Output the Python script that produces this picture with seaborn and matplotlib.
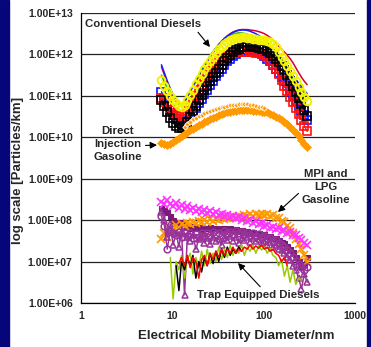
import numpy as np
import pandas as pd
import matplotlib
matplotlib.use("Agg")
import matplotlib.pyplot as plt
import seaborn as sns

# SMPS size channels (nm)
diam = [7.6, 8.2, 8.8, 9.5, 10.2, 11.0, 11.8, 12.6, 13.6, 14.6, 15.7, 16.8, 18.1,
        19.5, 20.9, 22.5, 24.1, 25.9, 27.9, 30.0, 32.2, 34.6, 37.2, 40.0, 43.0,
        46.1, 49.6, 53.3, 57.3, 61.5, 66.1, 71.0, 76.4, 82.0, 88.2, 94.7, 101.8,
        109.4, 117.6, 126.3, 135.7, 145.9, 156.8, 168.5, 181.1, 194.6, 209.1,
        224.7, 241.4, 259.5, 278.8, 299.6]

NA = None

# log10 particle number emissions per km, one list per vehicle/test
diesel_line_red = [11.7, 11.5, 11.32, 11.15, 11.0, 10.88, 10.8, 10.78, 10.84, 10.95, 11.08, 11.21,
                   11.34, 11.47, 11.6, 11.72, 11.84, 11.95, 12.05, 12.15, 12.24, 12.32, 12.39,
                   12.45, 12.5, 12.54, 12.57, 12.59, 12.6, 12.6, 12.6, 12.59, 12.58, 12.57, 12.55,
                   12.53, 12.5, 12.46, 12.41, 12.35, 12.28, 12.2, 12.13, 12.06, 11.98, 11.9, 11.8,
                   11.68, 11.56, 11.45, 11.35, 11.27]
diesel_line_blue = [11.75, 11.55, 11.36, 11.18, 11.02, 10.9, 10.82, 10.8, 10.85, 10.95, 11.07, 11.2,
                    11.33, 11.46, 11.59, 11.71, 11.83, 11.94, 12.04, 12.14, 12.23, 12.31, 12.38,
                    12.44, 12.49, 12.53, 12.56, 12.58, 12.59, 12.59, 12.58, 12.56, 12.53, 12.5,
                    12.46, 12.41, 12.35, 12.28, 12.2, 12.12, 12.03, 11.94, 11.85, 11.76, 11.67,
                    11.58, 11.49, 11.4, 11.31, 11.22, 11.13, 11.05]
diesel_line_green = [11.5, 11.33, 11.17, 11.03, 10.92, 10.84, 10.8, 10.8, 10.86, 10.97, 11.1, 11.23,
                     11.36, 11.49, 11.62, 11.74, 11.86, 11.97, 12.07, 12.16, 12.24, 12.31, 12.37,
                     12.42, 12.46, 12.49, 12.51, 12.52, 12.52, 12.51, 12.49, 12.46, 12.43, 12.39,
                     12.34, 12.29, 12.23, 12.16, 12.09, 12.01, 11.93, 11.84, 11.75, 11.66, 11.57,
                     11.48, 11.39, 11.3, 11.22, 11.14, 11.07, 11.01]
diesel_blue_sq = [11.1, 10.95, 10.8, 10.66, 10.53, 10.43, 10.36, 10.33, 10.34, 10.4, 10.5, 10.6,
                  10.71, 10.82, 10.93, 11.04, 11.15, 11.26, 11.37, 11.47, 11.57, 11.66, 11.75,
                  11.83, 11.9, 11.96, 12.01, 12.05, 12.08, 12.1, 12.11, 12.11, 12.1, 12.08, 12.05,
                  12.01, 11.96, 11.9, 11.83, 11.75, 11.66, 11.56, 11.46, 11.35, 11.24, 11.12, 11.0,
                  10.88, 10.76, 10.64, 10.53, 10.42]
diesel_black_sq = [10.9, 10.75, 10.6, 10.47, 10.35, 10.27, 10.22, 10.22, 10.27, 10.37, 10.5, 10.63,
                   10.76, 10.89, 11.01, 11.13, 11.24, 11.35, 11.46, 11.56, 11.66, 11.75, 11.84,
                   11.92, 11.99, 12.05, 12.1, 12.14, 12.17, 12.19, 12.2, 12.2, 12.19, 12.17, 12.15,
                   12.14, 12.12, 12.08, 12.03, 11.97, 11.9, 11.82, 11.73, 11.62, 11.5, 11.37, 11.23,
                   11.09, 10.95, 10.81, 10.67, 10.52]
diesel_red_sq = [10.95, 10.85, 10.75, 10.66, 10.59, 10.55, 10.52, 10.52, 10.55, 10.63, 10.74, 10.86,
                 10.99, 11.13, 11.26, 11.38, 11.5, 11.6, 11.69, 11.77, 11.84, 11.9, 11.95,
                 11.99, 12.02, 12.04, 12.05, 12.06, 12.06, 12.06, 12.06, 12.05, 12.05, 12.04, 12.03,
                 12.01, 11.98, 11.93, 11.87, 11.78, 11.66, 11.53, 11.38, 11.24, 11.11, 10.98, 10.84,
                 10.7, 10.56, 10.42, 10.28, 10.14]
diesel_yellow_ci = [11.39, 11.25, 11.12, 11.0, 10.9, 10.82, 10.76, 10.74, 10.78, 10.9, 11.03, 11.15,
                    11.28, 11.41, 11.53, 11.64, 11.75, 11.85, 11.95, 12.04, 12.12, 12.19, 12.25,
                    12.3, 12.34, 12.37, 12.39, 12.4, 12.41, 12.41, 12.4, 12.39, 12.38, 12.37, 12.36,
                    12.36, 12.35, 12.32, 12.29, 12.25, 12.19, 12.05, 11.95, 11.85, 11.73, 11.61,
                    11.48, 11.35, 11.22, 11.1, 10.98, 10.87]

digas_low = [9.87, 9.84, 9.82, 9.84, 9.88, 9.93, 9.98, 10.03, 10.08, 10.13, 10.17, 10.21, 10.25,
             10.29, 10.32, 10.36, 10.4, 10.43, 10.47, 10.5, 10.53, 10.56, 10.58, 10.6, 10.62,
             10.63, 10.64, 10.65, 10.66, 10.66, 10.66, 10.65, 10.64, 10.63, 10.63, 10.62, 10.62,
             10.6, 10.57, 10.54, 10.5, 10.46, 10.42, 10.38, 10.32, 10.25, 10.18, 10.1, 10.02,
             9.93, 9.84, 9.76]
digas_high = [NA, NA, NA, NA, NA, NA, NA, NA, 10.25, 10.32, 10.38, 10.43, 10.47, 10.51, 10.55,
              10.58, 10.61, 10.64, 10.66, 10.68, 10.7, 10.72, 10.74, 10.76, 10.77, 10.78, 10.79,
              10.8, 10.8, 10.8, 10.8, 10.79, 10.78, 10.76, 10.74, 10.72, 10.7, NA, NA, NA, NA,
              NA, NA, NA, NA, NA, NA, NA, NA, NA, NA, NA]

mpi_magenta = [8.45, 8.4, 8.48, 8.38, 8.35, 8.42, 8.3, 8.36, 8.28, 8.33, 8.25, 8.3, 8.22, 8.27,
               8.2, 8.24, 8.18, 8.22, 8.15, 8.19, 8.12, 8.16, 8.1, 8.13, 8.07, 8.11, 8.04, 8.08,
               8.01, 8.05, 7.98, 8.0, 7.94, 7.97, 7.9, 7.93, 7.86, 7.88, 7.82, 7.84, 7.78, 7.8,
               7.74, 7.76, 7.7, 7.71, 7.65, 7.63, 7.57, 7.52, 7.45, 7.4]
mpi_orange = [7.55, 7.7, 7.6, 7.8, 7.75, 7.88, 7.82, 7.9, 7.86, 7.94, 7.9, 7.96, 7.92, 7.98, 7.95,
              8.0, 7.96, 8.02, 7.98, 8.03, 8.0, 8.05, 8.02, 8.06, 8.04, 8.08, 8.05, 8.1, 8.07,
              8.12, 8.09, 8.14, 8.1, 8.15, 8.12, 8.16, 8.12, 8.15, 8.1, 8.12, 8.06, 8.05, 7.98,
              7.95, 7.85, 7.8, 7.68, 7.55, 7.42, 7.3, 7.15, 7.0]
lpg_purple_dark = [8.3, 8.25, 8.2, 8.1, 8.0, 7.95, 7.9, 7.95, 7.85, 7.88, 7.82, 7.86, 7.8, 7.84,
                   7.78, 7.82, 7.8, 7.84, 7.8, 7.82, 7.78, 7.8, 7.82, 7.78, 7.8, 7.76, 7.78, 7.74,
                   7.76, 7.72, 7.74, 7.7, 7.72, 7.68, 7.7, 7.66, 7.66, 7.62, 7.62, 7.58, 7.56,
                   7.52, 7.48, 7.44, 7.38, 7.3, 7.22, 7.12, 7.02, 6.9, 6.95, 7.1]
lpg_purple_ci = [8.1, 7.85, 7.3, 7.75, 7.7, 7.65, 7.72, 7.6, 7.68, 7.62, 7.7, 7.58, 7.66, 7.6, 7.7,
                 7.62, 7.68, 7.64, 7.72, 7.66, 7.7, 7.65, 7.73, 7.68, 7.72, 7.66, 7.74, 7.7, 7.72,
                 7.66, 7.7, 7.64, 7.68, 7.62, 7.66, 7.6, 7.62, 7.56, 7.58, 7.5, 7.52, 7.44, 7.4,
                 7.34, 7.28, 7.2, 7.12, 7.02, 6.94, 6.86, 6.8, 6.88]
lpg_purple_tri = [8.2, 8.0, 7.6, 7.9, 7.4, 7.7, 7.35, 7.75, 6.2, 7.6, 7.5, 7.65, 7.3, 7.55, 7.6,
                  7.45, 7.58, 7.42, 7.6, 7.5, 7.55, 7.4, 7.58, 7.52, 7.62, 7.5, 7.6, 7.45, 7.58,
                  7.52, 7.6, 7.48, 7.56, 7.5, 7.55, 7.45, 7.5, 7.4, 7.48, 7.35, 7.4, 7.3, 7.28,
                  7.2, 7.1, 7.05, 6.9, 6.8, 6.6, 6.35, 6.7, 6.5]

trap_green = [NA, NA, NA, 7.1, 6.1, 7.0, 6.8, 7.15, 6.6, 7.05, 7.2, 6.7, 7.1, 6.85, 7.25, 6.9,
              7.3, 6.95, 7.2, 7.0, 7.35, 7.05, 7.3, 7.1, 7.4, 7.15, 7.3, 7.2, 7.4, 7.15, 7.35,
              7.25, 7.4, 7.2, 7.38, 7.28, 7.35, 7.2, 7.32, 7.15, 7.1, 6.9, 7.05, 6.65, 6.9, 6.5,
              6.8, 6.45, 6.6, 6.55, NA, NA]
trap_black = [NA, NA, NA, NA, NA, 6.9, 6.3, 7.0, 6.8, 7.1, 6.9, 7.15, 6.6, 7.0, 6.75, 7.1, 6.9,
              7.2, 6.95, 7.25, 7.0, 7.3, 7.1, 7.35, 7.15, 7.3, 7.2, 7.35, 7.25, NA, NA, NA, NA,
              NA, NA, NA, NA, NA, NA, NA, NA, NA, NA, NA, NA, NA, NA, NA, NA, NA, NA, NA]
trap_red = [NA, NA, NA, NA, NA, NA, 6.95, 7.1, 6.9, 7.15, 6.85, 7.1, 7.0, 6.6, 7.05, 7.15, 6.9,
            7.2, 7.05, 7.25, 7.1, 7.3, 7.15, 7.3, 7.2, 7.35, 7.2, 7.3, 7.25, 7.35, 7.3, 7.4, 7.3,
            7.38, 7.32, 7.4, 7.3, 7.35, 7.25, 7.3, 7.2, 7.15, 7.0, 7.1, 6.9, NA, NA, NA, NA, NA,
            NA, NA]

y_ticks = [1e6, 1e7, 1e8, 1e9, 1e10, 1e11, 1e12, 1e13]
y_tick_labels = ["1.00E+06", "1.00E+07", "1.00E+08", "1.00E+09",
                 "1.00E+10", "1.00E+11", "1.00E+12", "1.00E+13"]
x_ticks = [1, 10, 100, 1000]
x_tick_labels = ["1", "10", "100", "1000"]

sns.set_style("white")
plt.rcParams["font.family"] = ["Liberation Sans", "DejaVu Sans"]
plt.rcParams["font.weight"] = "bold"

W, H = 371, 347
fig = plt.figure(figsize=(W / 100, H / 100), dpi=100, facecolor="white")

# slide background strips
fig.patches.append(plt.Rectangle((0, 0), 9 / W, 1, transform=fig.transFigure,
                                 color="#06067a", zorder=-10))
fig.patches.append(plt.Rectangle((367 / W, 0), 4 / W, 1, transform=fig.transFigure,
                                 color="#06067a", zorder=-10))

ax = fig.add_axes([81 / W, 1 - 303 / H, (355 - 81) / W, (303 - 13) / H])
ax.set_xscale("log")
ax.set_yscale("log")
ax.set_facecolor("white")


def draw(values, **style):
    pts = [(d, 10 ** v) for d, v in zip(diam, values) if v is not None]
    frame = pd.DataFrame(pts, columns=["d", "n"])
    sns.lineplot(data=frame, x="d", y="n", ax=ax, estimator=None, sort=False, **style)


# conventional diesels
draw(diesel_line_red, color="#d4002a", lw=1.1)
draw(diesel_line_green, color="#22b022", lw=1.1)
draw(diesel_line_blue, color="#1a1aff", lw=1.1)
draw(diesel_blue_sq, color="#1010ff", lw=1.0, marker="s", ms=5.2, mfc="none",
     mec="#1010ff", mew=1.2)
draw(diesel_red_sq, color="#ff1010", lw=1.0, marker="s", ms=5.2, mfc="none",
     mec="#ff1010", mew=1.2)
draw(diesel_black_sq, color="black", lw=1.0, marker="s", ms=5.2, mfc="none",
     mec="black", mew=1.2)
draw(diesel_yellow_ci, color="#ffff00", lw=1.0, marker="o", ms=5.5, mfc="none",
     mec="#f2f200", mew=1.4)

# direct injection gasoline
draw(digas_low, color="#ff9900", lw=3.5, marker="D", ms=4, mfc="#ff9900",
     mec="#ff9900", mew=0.5)
draw(digas_high, color="#ff9900", lw=1.5, marker="D", ms=2.8, mfc="#ff9900",
     mec="white", mew=0.6)

# MPI and LPG gasoline
draw(lpg_purple_dark, color="#7a1a7a", lw=1.4, marker="s", ms=3.6, mfc="#7a1a7a",
     mec="#7a1a7a", mew=0.8)
draw(mpi_orange, color="#ff9900", lw=1.0, marker="x", ms=5.5, mec="#ff9900", mew=1.2)
draw(mpi_magenta, color="#ff33ff", lw=1.0, marker="x", ms=5.5, mec="#ff33ff", mew=1.2)
draw(lpg_purple_ci, color="#993399", lw=1.0, marker="o", ms=4.8, mfc="none",
     mec="#993399", mew=1.1)
draw(lpg_purple_tri, color="#993399", lw=1.1, marker="^", ms=4.8, mfc="none",
     mec="#993399", mew=1.1)

# trap equipped diesels
draw(trap_green, color="#99cc00", lw=1.1)
draw(trap_black, color="black", lw=1.1)
draw(trap_red, color="#ff0000", lw=1.1)

ax.set_xlim(1, 1000)
ax.set_ylim(1e6, 1e13)
ax.set_xticks(x_ticks)
ax.set_xticklabels(x_tick_labels)
ax.set_yticks(y_ticks)
ax.set_yticklabels(y_tick_labels)
ax.minorticks_off()
ax.tick_params(axis="both", which="major", direction="out", length=3, width=0.8,
               color="black", labelsize=7.5, pad=3)
for lab in ax.get_xticklabels() + ax.get_yticklabels():
    lab.set_fontweight("bold")
ax.grid(False)
for yv in y_ticks:
    ax.axhline(yv, color="#222222", lw=0.9, zorder=0.5)
for side in ("top", "right"):
    ax.spines[side].set_visible(False)
for side in ("left", "bottom"):
    ax.spines[side].set_color("black")
    ax.spines[side].set_linewidth(0.9)

ax.set_xlabel("")
ax.set_ylabel("")
fig.text(236 / W, 1 - 336 / H, "Electrical Mobility Diameter/nm", ha="center",
         va="center", fontsize=9.5, fontweight="bold")
fig.text(18 / W, 1 - 170 / H, "log scale [Particles/km]", ha="center", va="center",
         rotation=90, fontsize=9.5, fontweight="bold")


def fp(x, y):
    return (x / W, 1 - y / H)


arrow = dict(arrowstyle="-|>", color="black", lw=0.8, mutation_scale=10,
             shrinkA=0, shrinkB=0)
ax.annotate("Conventional Diesels", xy=fp(210, 47), xycoords="figure fraction",
            xytext=fp(143, 24), textcoords="figure fraction", ha="center", va="center",
            fontsize=8.2, fontweight="bold", arrowprops=dict(arrow, relpos=(0.93, 0.3)))
ax.annotate("Direct\nInjection\nGasoline", xy=fp(157, 145), xycoords="figure fraction",
            xytext=fp(118, 144), textcoords="figure fraction", ha="center", va="center",
            fontsize=8.2, fontweight="bold", linespacing=1.4,
            arrowprops=dict(arrow, relpos=(0.86, 0.45)))
ax.annotate("MPI and\nLPG\nGasoline", xy=fp(278, 212), xycoords="figure fraction",
            xytext=fp(326, 187), textcoords="figure fraction", ha="center", va="center",
            fontsize=8.2, fontweight="bold", linespacing=1.4,
            arrowprops=dict(arrow, relpos=(0.12, 0.55)))
ax.annotate("Trap Equipped Diesels", xy=fp(238, 263), xycoords="figure fraction",
            xytext=fp(258, 295), textcoords="figure fraction", ha="center", va="center",
            fontsize=8.2, fontweight="bold",
            arrowprops=dict(arrow, relpos=(0.52, 1.3)))

fig.savefig("out.png", dpi=100, facecolor="white")
